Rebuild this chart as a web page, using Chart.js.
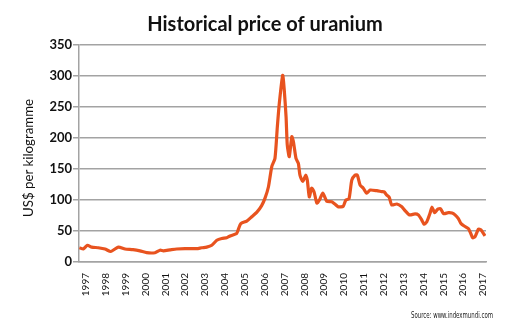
<!DOCTYPE html>
<html>
<head>
<meta charset="utf-8">
<script src="https://cdn.jsdelivr.net/npm/chart.js@4/dist/chart.umd.min.js"></script>
<style>
  html, body { margin: 0; padding: 0; background: #fff; }
  #wrap { position: relative; width: 514px; height: 331px; }
</style>
</head>
<body>
<div id="wrap"><canvas id="c" width="514" height="331"></canvas></div>
<script>
// Time (decimal year) and price in US$ per kilogramme
const dates = [
  1997.02, 1997.22, 1997.42, 1997.64, 1997.97, 1998.31, 1998.60, 1998.98, 1999.32, 1999.72,
  2000.07, 2000.41, 2000.83, 2001.08, 2001.25, 2001.58, 2001.92, 2002.34, 2002.93, 2003.18,
  2003.43, 2003.69, 2003.94, 2004.19, 2004.44, 2004.61, 2004.94, 2005.03, 2005.15, 2005.45,
  2005.70, 2005.95, 2006.20, 2006.37, 2006.54, 2006.71, 2006.87, 2006.99, 2007.09, 2007.26,
  2007.34, 2007.43, 2007.49, 2007.59, 2007.72, 2007.80, 2007.93, 2008.05, 2008.13, 2008.27,
  2008.42, 2008.50, 2008.60, 2008.72, 2008.84, 2008.98, 2009.11, 2009.28, 2009.48, 2009.73,
  2009.90, 2010.06, 2010.31, 2010.44, 2010.60, 2010.74, 2010.90, 2011.02, 2011.16, 2011.32,
  2011.49, 2011.66, 2012.00, 2012.25, 2012.37, 2012.50, 2012.63, 2012.75, 2013.01, 2013.26,
  2013.42, 2013.64, 2013.93, 2014.09, 2014.26, 2014.38, 2014.52, 2014.68, 2014.78, 2014.91,
  2015.06, 2015.21, 2015.36, 2015.60, 2015.79, 2015.94, 2016.11, 2016.24, 2016.40, 2016.61,
  2016.72, 2016.83, 2016.95, 2017.12, 2017.24, 2017.35, 2017.45
];
const prices = [
  23, 21, 27, 24, 23, 21, 17, 24, 21, 20,
  18, 15, 15, 19, 18, 19.5, 21, 21.5, 21.5, 23,
  24, 27, 35, 38, 39, 42, 46, 53, 62, 66,
  73, 80, 91, 103, 121, 154, 167, 218, 256, 301,
  277, 234, 189, 170, 202, 194, 167, 159, 140, 130,
  140, 132, 105, 119, 113, 95, 100, 111, 98, 97,
  93, 89, 90, 100, 102, 132, 140, 140, 124, 119,
  111, 116, 115, 113.5, 113, 108, 104, 92, 93.5, 89,
  83, 76, 77.5, 76, 68, 61, 65, 78.5, 88.5, 79.5,
  85, 86, 78, 79.5, 79, 76, 70, 62, 58, 54,
  47, 39, 41, 53, 52, 47, 42
];
const yearLabels = ['1997','1998','1999','2000','2001','2002','2003','2004','2005','2006','2007',
  '2008','2009','2010','2011','2012','2013','2014','2015','2016','2017'];
const yTicks = [0, 50, 100, 150, 200, 250, 300, 350];
const titleText = 'Historical price of uranium';
const yAxisTitle = 'US$ per kilogramme';
const sourceText = 'Source: www.indexmundi.com';

const points = dates.map((d, i) => ({ x: d, y: prices[i] }));
const gridGrey = '#a3a3a3';

// Draws the heading, the axis title and the source note as canvas text
const textPlugin = {
  id: 'textPlugin',
  afterDraw(chart) {
    const ctx = chart.ctx;
    ctx.save();
    ctx.fillStyle = '#111';
    ctx.textAlign = 'center';
    ctx.textBaseline = 'middle';
    ctx.font = 'bold 20px Lato';
    ctx.fillText(titleText, 265, 25, 245);

    ctx.save();
    ctx.translate(28, 158);
    ctx.rotate(-Math.PI / 2);
    ctx.font = '14px Lato';
    ctx.fillText(yAxisTitle, 0, 0, 118);
    ctx.restore();

    ctx.fillStyle = '#222';
    ctx.textAlign = 'right';
    ctx.font = '8px "DejaVu Sans Condensed", Lato, sans-serif';
    ctx.fillText(sourceText, 493, 316, 82);
    ctx.restore();
  }
};

new Chart(document.getElementById('c'), {
  type: 'line',
  data: {
    datasets: [{
      data: points,
      borderColor: '#e8531f',
      borderWidth: 3.2,
      pointRadius: 0,
      tension: 0.2,
      fill: false
    }]
  },
  options: {
    responsive: false,
    animation: false,
    events: [],
    layout: { padding: { top: 45, right: 28, bottom: 0, left: 0 } },
    plugins: {
      legend: { display: false },
      tooltip: { enabled: false },
      title: { display: false }
    },
    scales: {
      x: {
        type: 'linear',
        min: 1997,
        max: 2017.5,
        grid: { display: false },
        border: { display: true, color: gridGrey, width: 1.5 },
        afterBuildTicks: (scale) => {
          scale.ticks = yearLabels.map(y => ({ value: Number(y) + 0.35 }));
        },
        afterFit: (scale) => { scale.height = 69; },
        ticks: {
          autoSkip: false,
          minRotation: 90,
          maxRotation: 90,
          padding: 3,
          color: '#111',
          font: { family: 'Lato', size: 10 },
          callback: (v, i) => yearLabels[i]
        }
      },
      y: {
        min: 0,
        max: 350,
        afterBuildTicks: (scale) => {
          scale.ticks = yTicks.map(v => ({ value: v }));
        },
        afterFit: (scale) => { scale.width = 79; },
        grid: { color: gridGrey, lineWidth: 1.5, tickLength: 6, drawTicks: true },
        border: { display: true, color: gridGrey, width: 1.5 },
        ticks: {
          padding: 1,
          color: '#111',
          font: { family: 'Lato', size: 13, weight: 'bold' }
        },
        title: { display: false }
      }
    }
  },
  plugins: [textPlugin]
});
</script>
</body>
</html>
